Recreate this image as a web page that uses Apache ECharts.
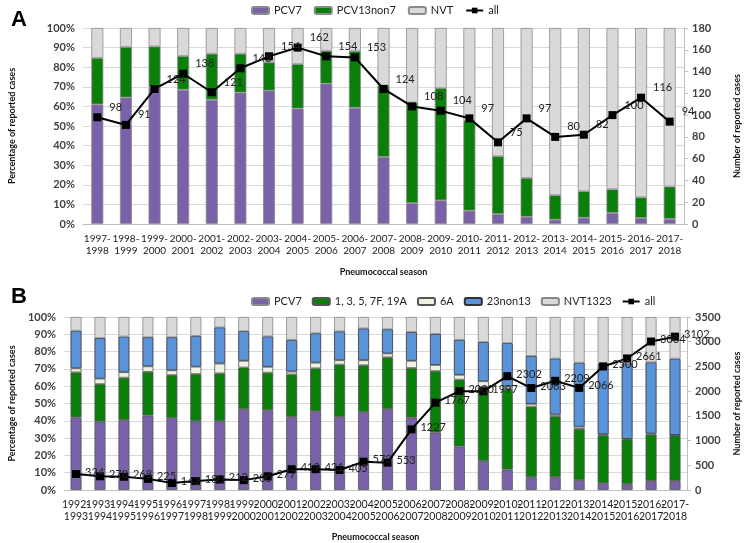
<!DOCTYPE html>
<html>
<head>
<meta charset="utf-8">
<script src="https://cdn.jsdelivr.net/npm/echarts@6/dist/echarts.min.js"></script>
<style>
html,body{margin:0;padding:0;background:#fff;}
#c{width:750px;height:543px;}
</style>
</head>
<body>
<div id="c"></div>
<script>
// ---------- Panel A data ----------
const seasonsA = ['1997-1998','1998-1999','1999-2000','2000-2001','2001-2002','2002-2003','2003-2004','2004-2005','2005-2006','2006-2007','2007-2008','2008-2009','2009-2010','2010-2011','2011-2012','2012-2013','2013-2014','2014-2015','2015-2016','2016-2017','2017-2018'];
const pcv7A      = [61.0, 64.5, 69.8, 68.5, 63.4, 67.0, 68.0, 58.9, 71.6, 59.3, 34.2, 10.7, 12.1, 6.8, 5.1, 3.7, 2.2, 3.2, 5.6, 3.1, 2.6];
const pcv13non7A = [23.7, 25.8, 20.8, 17.2, 23.5, 19.9, 14.5, 22.7, 16.8, 28.9, 36.5, 51.3, 57.2, 45.8, 29.5, 19.8, 12.5, 13.5, 12.1, 10.5, 16.5];
const nvtA       = [15.3, 9.7, 9.4, 14.3, 13.1, 13.1, 17.5, 18.4, 11.6, 11.8, 29.3, 38.0, 30.7, 47.4, 65.4, 76.5, 85.3, 83.3, 82.3, 86.4, 80.9];
const allA       = [98, 91, 124, 138, 121, 143, 154, 162, 154, 153, 124, 108, 104, 97, 75, 97, 80, 82, 100, 116, 94];

// ---------- Panel B data ----------
const seasonsB = ['1992-1993','1993-1994','1994-1995','1995-1996','1996-1997','1997-1998','1998-1999','1999-2000','2000-2001','2001-2002','2002-2003','2003-2004','2004-2005','2005-2006','2006-2007','2007-2008','2008-2009','2009-2010','2010-2011','2011-2012','2012-2013','2013-2014','2014-2015','2015-2016','2016-2017','2017-2018'];
const pcv7B     = [42.0, 39.6, 40.4, 43.1, 41.6, 39.8, 39.8, 46.7, 46.1, 42.2, 45.5, 42.2, 45.0, 46.7, 41.8, 33.2, 25.2, 16.7, 11.8, 7.4, 7.4, 5.7, 3.9, 3.4, 5.2, 5.2];
const sero6B    = [26.0, 21.6, 24.5, 25.2, 24.8, 27.2, 27.6, 24.1, 21.7, 24.6, 24.8, 30.3, 27.1, 30.0, 28.7, 35.5, 38.6, 42.8, 46.7, 40.8, 35.2, 29.6, 27.7, 25.8, 26.8, 26.4];
const s6AB      = [2.3, 3.2, 3.2, 3.2, 2.8, 4.3, 5.7, 3.9, 3.4, 1.7, 3.3, 2.5, 2.9, 2.2, 4.2, 3.6, 2.8, 3.4, 1.3, 1.6, 1.0, 1.3, 0.6, 0.3, 0.6, 0.2];
const non13B    = [21.8, 23.4, 20.6, 16.8, 19.1, 17.8, 20.9, 17.1, 17.6, 18.3, 17.0, 16.7, 18.4, 14.0, 16.6, 17.9, 20.2, 22.6, 25.1, 27.7, 32.4, 37.0, 40.9, 43.6, 41.2, 44.1];
const nvt1323B  = [7.9, 12.2, 11.3, 11.7, 11.7, 10.9, 6.0, 8.2, 11.2, 13.2, 9.4, 8.3, 6.6, 7.1, 8.7, 9.8, 13.2, 14.5, 15.1, 22.5, 24.0, 26.4, 26.9, 26.9, 26.2, 24.1];
const allB      = [324, 278, 268, 225, 142, 180, 212, 200, 277, 419, 421, 405, 573, 553, 1227, 1767, 2000, 1997, 2302, 2063, 2209, 2066, 2500, 2661, 3004, 3102];

const ticksPct = {min: 0, max: 100, interval: 10};
const ticksA = {min: 0, max: 180, interval: 20};
const ticksB = {min: 0, max: 3500, interval: 500};

// ---------- styling ----------
const FONT = 'Lato, "Liberation Sans", sans-serif';
const C_PCV7 = '#7a62a9';
const C_GREEN = '#0a7f0a';
const C_GRAY = '#d9d9d9';
const C_6A = '#eef2e0';
const C_BLUE = '#5a93d8';

const chart = echarts.init(document.getElementById('c'), null, {renderer: 'canvas'});

function xLab(v){ return v.replace('-', '-\n'); }

function xAxisDef(gridIndex, cats, gap, fs){
  return {
    type: 'category', gridIndex, data: cats,
    axisLine: {lineStyle: {color: '#bfbfbf'}},
    axisTick: {show: false},
    axisLabel: {interval: 0, formatter: xLab, fontFamily: FONT, fontSize: fs, color: '#222', lineHeight: 12, margin: 9},
    name: 'Pneumococcal season', nameLocation: 'middle', nameGap: gap,
    nameTextStyle: {fontFamily: FONT, fontSize: 9, fontWeight: 'bold', color: '#111'}
  };
}
function yPctDef(gridIndex, gap){
  return Object.assign({
    type: 'value', gridIndex,
    axisLabel: {formatter: '{value}%', fontFamily: FONT, fontSize: 11, fontWeight: 'bold', color: '#404040', margin: 8},
    splitLine: {lineStyle: {color: '#d9d9d9'}},
    axisLine: {show: false}, axisTick: {show: false},
    name: 'Percentage of reported cases', nameLocation: 'middle', nameGap: gap, nameRotate: 90,
    nameTextStyle: {fontFamily: FONT, fontSize: 9, fontWeight: 'bold', color: '#111'}
  }, ticksPct);
}
function yCntDef(gridIndex, ticks, gap){
  return Object.assign({
    type: 'value', gridIndex, position: 'right',
    axisLabel: {formatter: v => String(v), fontFamily: FONT, fontSize: 11, fontWeight: 'bold', color: '#404040', margin: 8},
    splitLine: {show: false},
    axisLine: {show: true, lineStyle: {color: '#bfbfbf'}},
    axisTick: {show: true, length: 4, lineStyle: {color: '#bfbfbf'}},
    name: 'Number of reported cases', nameLocation: 'middle', nameGap: gap, nameRotate: 90,
    nameTextStyle: {fontFamily: FONT, fontSize: 9, fontWeight: 'bold', color: '#111'}
  }, ticks);
}
function barS(name, data, color, xi, yi, stack, w, border){
  return {
    name, type: 'bar', data, xAxisIndex: xi, yAxisIndex: yi, stack, barWidth: w,
    itemStyle: {color, borderColor: border, borderWidth: 0.8},
    emphasis: {disabled: true}
  };
}
function lineS(data, xi, yi, lab){
  return {
    name: 'all', type: 'line', data, xAxisIndex: xi, yAxisIndex: yi,
    symbol: 'rect', symbolSize: 8, z: 10,
    lineStyle: {color: '#000', width: 2},
    itemStyle: {color: '#000'},
    label: Object.assign({show: true, fontFamily: FONT, fontSize: 11, color: '#222'}, lab),
    emphasis: {disabled: true}
  };
}

const option = {
  animation: false,
  textStyle: {fontFamily: FONT},
  title: [
    {text: 'A', left: 6, top: 4, textStyle: {fontFamily: '"Liberation Sans", Arial, sans-serif', fontSize: 22, fontWeight: 'bold', color: '#000'}},
    {text: 'B', left: 6, top: 281, textStyle: {fontFamily: '"Liberation Sans", Arial, sans-serif', fontSize: 22, fontWeight: 'bold', color: '#000'}}
  ],
  legend: [
    {data: ['PCV7', 'PCV13non7', 'NVT', 'all'], left: 246, top: 0, itemWidth: 17, itemHeight: 7, itemGap: 12,
     textStyle: {fontFamily: FONT, fontSize: 11, color: '#222'}, selectedMode: false},
    {data: ['PCV7', '1, 3, 5, 7F, 19A', '6A', '23non13', 'NVT1323', 'all'], left: 246, top: 291, itemWidth: 17, itemHeight: 7, itemGap: 10,
     textStyle: {fontFamily: FONT, fontSize: 11, color: '#222'}, selectedMode: false}
  ],
  grid: [
    {left: 80, right: 54, top: 28, height: 196},
    {left: 49, right: 51, top: 317, height: 176}
  ],
  xAxis: [xAxisDef(0, seasonsA, 44, 10), xAxisDef(1, seasonsB, 43, 10.5)],
  yAxis: [yPctDef(0, 66), yCntDef(0, ticksA, 49), yPctDef(1, 38), yCntDef(1, ticksB, 46)],
  series: [
    barS('PCV7', pcv7A, C_PCV7, 0, 0, 'a', 12, '#8c8c8c'),
    barS('PCV13non7', pcv13non7A, C_GREEN, 0, 0, 'a', 12, '#8c8c8c'),
    barS('NVT', nvtA, C_GRAY, 0, 0, 'a', 12, '#8c8c8c'),
    lineS(allA, 0, 1, {position: 'right', distance: 8, offset: [0, -10]}),
    barS('PCV7', pcv7B, C_PCV7, 1, 2, 'b', 11, '#555'),
    barS('1, 3, 5, 7F, 19A', sero6B, C_GREEN, 1, 2, 'b', 11, '#555'),
    barS('6A', s6AB, C_6A, 1, 2, 'b', 11, '#555'),
    barS('23non13', non13B, C_BLUE, 1, 2, 'b', 11, '#333'),
    barS('NVT1323', nvt1323B, C_GRAY, 1, 2, 'b', 11, '#888'),
    lineS(allB, 1, 3, {position: 'right', distance: 5, offset: [0, -2]})
  ]
};
chart.setOption(option);
</script>
</body>
</html>
